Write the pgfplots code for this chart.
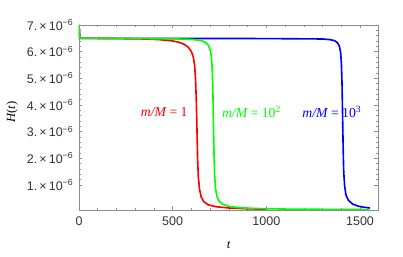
\documentclass[border=0pt]{standalone}
\usepackage{fontspec}
\setmainfont{Liberation Sans}
\newfontfamily\tms{Liberation Serif}
\usepackage{pgfplots}
\pgfplotsset{compat=1.18}
\definecolor{mred}{rgb}{1,0,0}
\definecolor{mgreen}{rgb}{0,1,0}
\definecolor{mblue}{rgb}{0,0,1}
\begin{document}
\begin{tikzpicture}
\useasboundingbox (-63.2pt,-37.6pt) rectangle (259.2pt,168pt);
\begin{axis}[
  at={(0pt,0pt)}, anchor=south west,
  width=239.2pt, height=148pt, scale only axis,
  xmin=0, xmax=1596, ymin=0.055e-6, ymax=7e-6,
  axis line style={black!45, line width=0.5pt},
  tick style={black!45, line width=0.4pt},
  major tick length=2.8pt, minor tick length=1.6pt,
  tick align=inside,
  xtick={0,500,1000,1500}, xticklabels={0,500,1000,1500},
  minor x tick num=4,
  ytick={1e-6,2e-6,3e-6,4e-6,5e-6,6e-6,7e-6},
  yticklabels={{1.\,×\,10\textsuperscript{−6}},{2.\,×\,10\textsuperscript{−6}},{3.\,×\,10\textsuperscript{−6}},{4.\,×\,10\textsuperscript{−6}},{5.\,×\,10\textsuperscript{−6}},{6.\,×\,10\textsuperscript{−6}},{7.\,×\,10\textsuperscript{−6}}},
  minor y tick num=4,
  scaled y ticks=false,
  /pgf/number format/assume math mode=true,
  tick label style={font=\fontsize{10}{12}\selectfont, text=black!80},
  xticklabel style={yshift=-2pt},
  yticklabel style={xshift=-1pt},
  xlabel={\tms\itshape t}, ylabel={\tms\itshape H\/\upshape(\itshape t\/\upshape)},
  label style={font=\fontsize{10}{12}\selectfont},
  xlabel style={at={(axis description cs:0.5,-0.19)}, anchor=center},
  ylabel style={at={(axis description cs:-0.224,0.53)}, anchor=center, rotate=0},
  clip=true,
]
\addplot[mblue, line width=1.3pt] coordinates {
(0,7.0e-6) (4,6.5e-6) (500,6.495e-6) (1000,6.49e-6) (1300,6.475e-6) (1340,6.45e-6)
(1365,6.41e-6) (1380,6.33e-6) (1390,6.2e-6) (1397,5.95e-6) (1401,5.5e-6)
(1404,4.8e-6) (1407,3.6e-6) (1410,2.4e-6) (1413,1.5e-6) (1418,0.95e-6)
(1425,0.62e-6) (1438,0.42e-6) (1460,0.28e-6) (1490,0.2e-6) (1520,0.16e-6) (1553,0.13e-6)
};
\addplot[mred, line width=1.3pt] coordinates {
(0,7.0e-6) (4,6.5e-6) (200,6.49e-6) (350,6.475e-6) (430,6.45e-6) (490,6.41e-6)
(530,6.36e-6) (560,6.28e-6) (583,6.17e-6) (600,6.0e-6) (610,5.8e-6) (617,5.5e-6)
(622,5.0e-6) (626,4.2e-6) (630,3.0e-6) (633,2.0e-6) (637,1.3e-6) (643,0.85e-6)
(652,0.55e-6) (666,0.37e-6) (690,0.25e-6) (730,0.18e-6) (800,0.13e-6) (900,0.1e-6) (1000,0.085e-6)
};
\addplot[mgreen, line width=1.3pt] coordinates {
(0,7.0e-6) (4,6.5e-6) (300,6.49e-6) (500,6.48e-6) (600,6.46e-6) (650,6.42e-6)
(675,6.35e-6) (692,6.22e-6) (702,6.02e-6) (708,5.7e-6) (712,5.2e-6) (715,4.4e-6)
(718,3.2e-6) (721,2.1e-6) (724,1.35e-6) (729,0.85e-6) (737,0.55e-6) (750,0.37e-6)
(770,0.26e-6) (800,0.19e-6) (860,0.14e-6) (950,0.11e-6) (1100,0.09e-6) (1300,0.08e-6) (1550,0.07e-6)
};
\node[mred, font=\tms\fontsize{11}{13}\selectfont] at (axis cs:455,3.73e-6) {\itshape m/M\upshape{} = 1};
\node[mgreen, font=\tms\fontsize{11}{13}\selectfont] at (axis cs:921,3.73e-6) {\itshape m/M\upshape{} = 10\textsuperscript{2}};
\node[mblue, font=\tms\fontsize{11}{13}\selectfont] at (axis cs:1350,3.73e-6) {\itshape m/M\upshape{} = 10\textsuperscript{3}};
\end{axis}
\end{tikzpicture}
\end{document}
